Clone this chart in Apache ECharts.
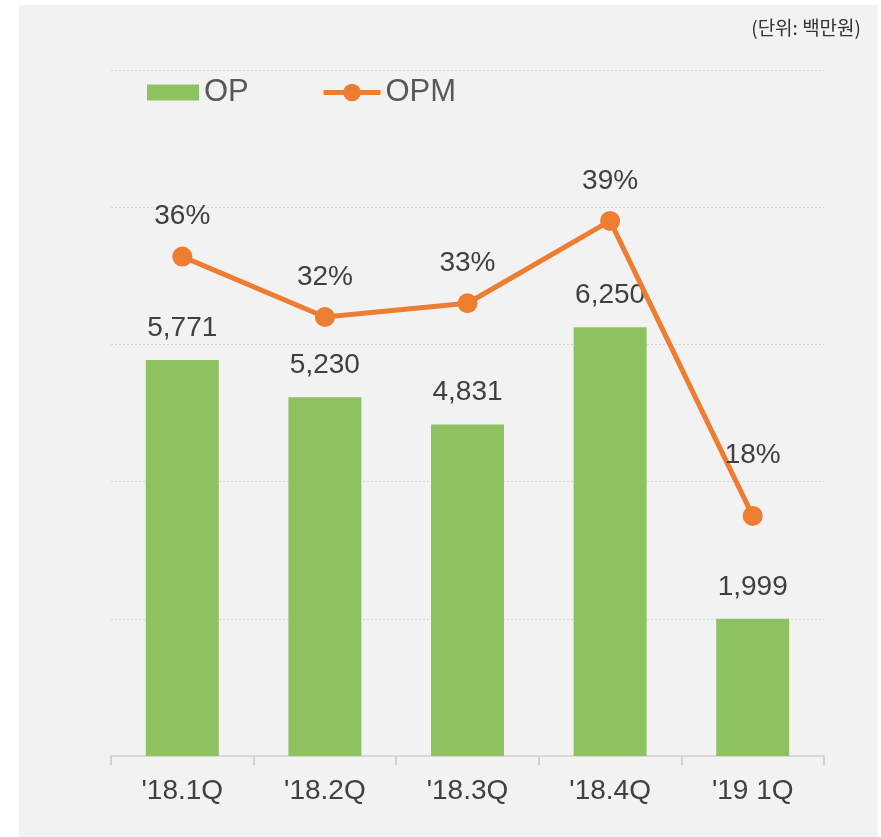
<!DOCTYPE html>
<html>
<head>
<meta charset="utf-8">
<script src="https://cdn.jsdelivr.net/npm/echarts@6/dist/echarts.min.js"></script>
<style>
  html, body { margin: 0; padding: 0; background: #fff; }
  #chart { width: 881px; height: 837px; }
</style>
</head>
<body>
<div id="chart"></div>
<script>
// quarters
const categories = ["'18.1Q", "'18.2Q", "'18.3Q", "'18.4Q", "'19 1Q"];
// OP (백만원)
const opValues = [5771, 5230, 4831, 6250, 1999];
// OPM (%)
const opmValues = [36.4, 32.0, 33.0, 39.0, 17.5];
const unitText = '(단위: 백만원)';

const textColor = '#404040';
const green = '#8ec15f';
const orange = '#ed7d31';
const fontFamily = 'Liberation Sans, Arial, sans-serif';

// last OPM label sits higher, clear of the falling line
const opmData = opmValues.map((v, i) =>
  i === opmValues.length - 1 ? { value: v, label: { distance: 37 } } : v
);

const chart = echarts.init(document.getElementById('chart'));

chart.setOption({
  backgroundColor: '#ffffff',
  animation: false,
  graphic: [
    {
      type: 'rect',
      z: -10,
      silent: true,
      shape: { x: 19, y: 5, width: 859, height: 832 },
      style: { fill: '#f2f2f2' },
    },
  ],
  title: {
    text: unitText,
    right: 15,
    top: 13,
    textStyle: {
      fontFamily: 'Noto Sans CJK KR',
      fontSize: 19,
      fontWeight: 'normal',
      color: '#333333',
    },
  },
  legend: [
    {
      data: [{ name: 'OP', icon: 'rect' }],
      left: 142,
      top: 72,
      itemWidth: 52,
      itemHeight: 16,
      textStyle: { fontFamily, fontSize: 31, color: '#595959' },
    },
    {
      data: ['OPM'],
      left: 316,
      top: 72,
      itemWidth: 57,
      itemHeight: 22,
      lineStyle: { width: 5 },
      textStyle: { fontFamily, fontSize: 31, color: '#595959' },
    },
  ],
  grid: { left: 111, right: 57, top: 70, bottom: 81 },
  xAxis: {
    type: 'category',
    data: categories,
    axisLine: { lineStyle: { color: '#d9d9d9', width: 2 } },
    axisTick: { show: true, length: 9, lineStyle: { color: '#d0d0d0', width: 2 } },
    axisLabel: { color: textColor, fontFamily, fontSize: 28, margin: 21 },
  },
  yAxis: [
    {
      type: 'value',
      min: 0,
      max: 10000,
      interval: 2000,
      axisLabel: { show: false },
      axisLine: { show: false },
      axisTick: { show: false },
      splitLine: { lineStyle: { color: '#d6d6d6', type: [2, 2], width: 1 } },
    },
    {
      type: 'value',
      min: 0,
      max: 50,
      interval: 10,
      axisLabel: { show: false },
      axisLine: { show: false },
      axisTick: { show: false },
      splitLine: { show: false },
    },
  ],
  series: [
    {
      name: 'OP',
      type: 'bar',
      data: opValues,
      barWidth: 73,
      itemStyle: { color: green },
      label: {
        show: true,
        position: 'top',
        distance: 18,
        color: textColor,
        fontFamily,
        fontSize: 28,
        formatter: (p) => p.value.toLocaleString('en-US'),
      },
    },
    {
      name: 'OPM',
      type: 'line',
      yAxisIndex: 1,
      data: opmData,
      symbol: 'circle',
      symbolSize: 20,
      itemStyle: { color: orange },
      lineStyle: { color: orange, width: 5 },
      label: {
        show: true,
        position: 'top',
        distance: 16,
        color: textColor,
        fontFamily,
        fontSize: 28,
        formatter: (p) => Math.round(p.value) + '%',
      },
    },
  ],
});
</script>
</body>
</html>
